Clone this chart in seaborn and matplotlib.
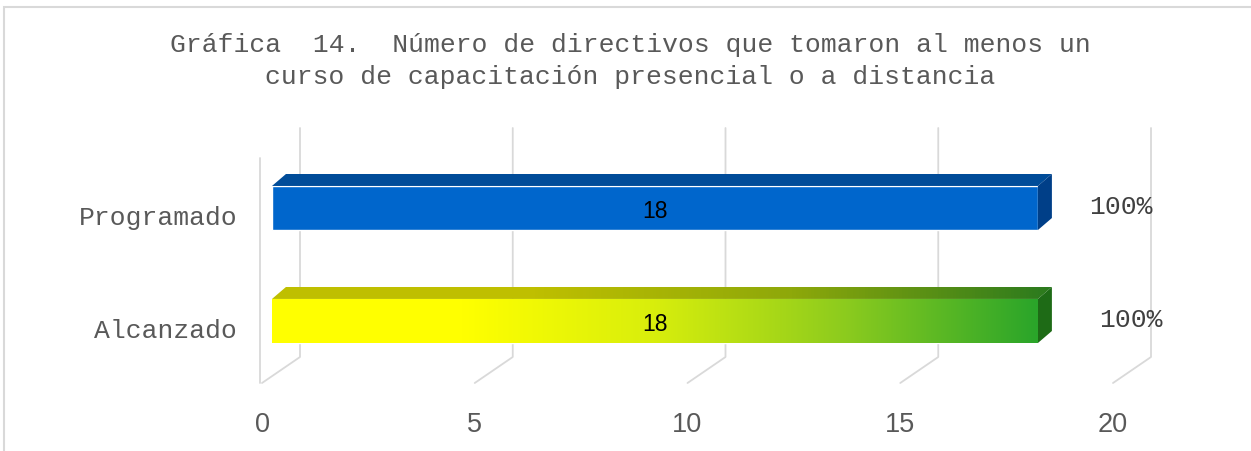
import matplotlib
matplotlib.use('Agg')
import matplotlib.pyplot as plt
import matplotlib.transforms as mtransforms
from matplotlib.patches import Polygon, Rectangle
from matplotlib.colors import LinearSegmentedColormap
import seaborn as sns
import numpy as np
import pandas as pd

# datos
categorias = ['Programado', 'Alcanzado']
valores = [18, 18]
porcentajes = ['100%', '100%']
ticks_x = [0, 5, 10, 15, 20]
titulo = ('Gráfica  14.  Número de directivos que tomaron al menos un\n'
          'curso de capacitación presencial o a distancia')

sns.set_style('white')
plt.rcParams['font.family'] = ['Liberation Mono', 'DejaVu Sans Mono']

W, H = 1251, 451
fig = plt.figure(figsize=(W / 100, H / 100), dpi=100)
ax = fig.add_axes([272 / W, 1 - 383 / H, 851 / W, 255 / H])

df = pd.DataFrame({'categoria': categorias, 'valor': valores})
sns.barplot(data=df, x='valor', y='categoria', orient='h', width=0.39,
            color='#0066CC', saturation=1, ax=ax)

XLIM = (0, 20)
YLIM = (1.549, -0.708)
ax.set_xlim(XLIM)
ax.set_ylim(YLIM)
for s in ax.spines.values():
    s.set_visible(False)
ax.set_xlabel('')
ax.set_ylabel('')

gris = '#D9D9D9'
texto = '#595959'
inv = ax.transData.inverted()

# paredes / rejilla con perspectiva
y_base = ax.transData.transform((0, YLIM[0]))[1]
y_top = ax.transData.transform((0, YLIM[1]))[1]
for k in ticks_x:
    xf = ax.transData.transform((k, YLIM[0]))[0] - 10
    xb = xf + 38
    pts = inv.transform([(xf, y_base), (xb, y_base + 26), (xb, y_top)])
    ax.plot(pts[:, 0], pts[:, 1], color=gris, lw=1.3, clip_on=False, zorder=0)
xf0 = ax.transData.transform((0, YLIM[0]))[0] - 12
pts = inv.transform([(xf0, y_base), (xf0, y_top - 30)])
ax.plot(pts[:, 0], pts[:, 1], color=gris, lw=1.3, clip_on=False, zorder=0)

# barras en 3D
frente = [None, ['#FFFF00', '#FFFF00', '#D8EE0C', '#8CCB1E', '#2AA52A']]
arriba = [['#004C99'] * 2, ['#BFBF00', '#BFBF00', '#8EA80A', '#2B7A1E']]
lado = ['#003F88', '#1E6B16']
dx, dy = 14, 12
grad = np.linspace(0, 1, 256).reshape(1, -1)
for i, p in enumerate(ax.patches):
    x0, y0, w, h = p.get_x(), p.get_y(), p.get_width(), p.get_height()
    (l, b), (r, t) = ax.transData.transform([(x0, y0 + h), (x0 + w, y0)])
    # cara superior
    sup = Polygon(inv.transform([(l, t), (r, t), (r + dx, t + dy), (l + dx, t + dy)]),
                  closed=True, facecolor='none', edgecolor='none', zorder=2)
    ax.add_patch(sup)
    ex = inv.transform([(l, t), (r + dx, t + dy)])
    im = ax.imshow(grad, cmap=LinearSegmentedColormap.from_list(f'a{i}', arriba[i]),
                   extent=(ex[0, 0], ex[1, 0], ex[0, 1], ex[1, 1]),
                   aspect='auto', zorder=2, interpolation='bilinear')
    im.set_clip_path(sup)
    # cara lateral
    lat = Polygon(inv.transform([(r, b), (r, t), (r + dx, t + dy), (r + dx, b + dy)]),
                  closed=True, facecolor=lado[i], edgecolor='none', zorder=2)
    ax.add_patch(lat)
    # cara frontal
    if frente[i] is not None:
        p.set_facecolor('none')
        im = ax.imshow(grad, cmap=LinearSegmentedColormap.from_list(f'f{i}', frente[i]),
                       extent=(x0, x0 + w, y0 + h, y0), aspect='auto', zorder=2,
                       interpolation='bilinear')
        im.set_clip_path(p)
    p.set_zorder(2)

ax.set_xlim(XLIM)
ax.set_ylim(YLIM)

# etiquetas de valor
for cont in ax.containers:
    etiquetas = ax.bar_label(cont, labels=[str(v) for v in valores], label_type='center',
                             fontsize=16.5, color='black', family='Liberation Sans',
                             zorder=5)
    for e in etiquetas:
        e.xyann = (0, -2.5)

desplaz = [60, 67]
for i, (v, pct) in enumerate(zip(valores, porcentajes)):
    ax.annotate(pct, xy=(v, i), xytext=(desplaz[i], 1), textcoords='offset points',
                ha='center', va='center', fontsize=19, color='#404040')

# ejes
ax.set_xticks(ticks_x)
ax.set_xticklabels([str(t) for t in ticks_x], family='Liberation Sans',
                   fontsize=19.5, color=texto)
ax.tick_params(axis='x', length=0, pad=21)
ax.tick_params(axis='y', length=0, pad=25)
for lbl in ax.get_yticklabels():
    lbl.set_fontsize(19)
    lbl.set_color(texto)
    lbl.set_transform(lbl.get_transform() +
                      mtransforms.ScaledTranslation(0, -8 / 100, fig.dpi_scale_trans))
for lbl in ax.get_xticklabels():
    lbl.set_transform(lbl.get_transform() +
                      mtransforms.ScaledTranslation(-10 / 100, 0, fig.dpi_scale_trans))
ax.grid(False)

fig.text(0.5 * (168 + 1092) / W, 1 - 61 / H, titulo, ha='center', va='center',
         fontsize=19, color=texto, linespacing=1.43)

fig.patches.append(Rectangle((4 / W, -0.1), 1.2, 1 - 7 / H + 0.1, transform=fig.transFigure,
                             fill=False, edgecolor=gris, lw=1.5))

fig.savefig('out.png', dpi=100)
